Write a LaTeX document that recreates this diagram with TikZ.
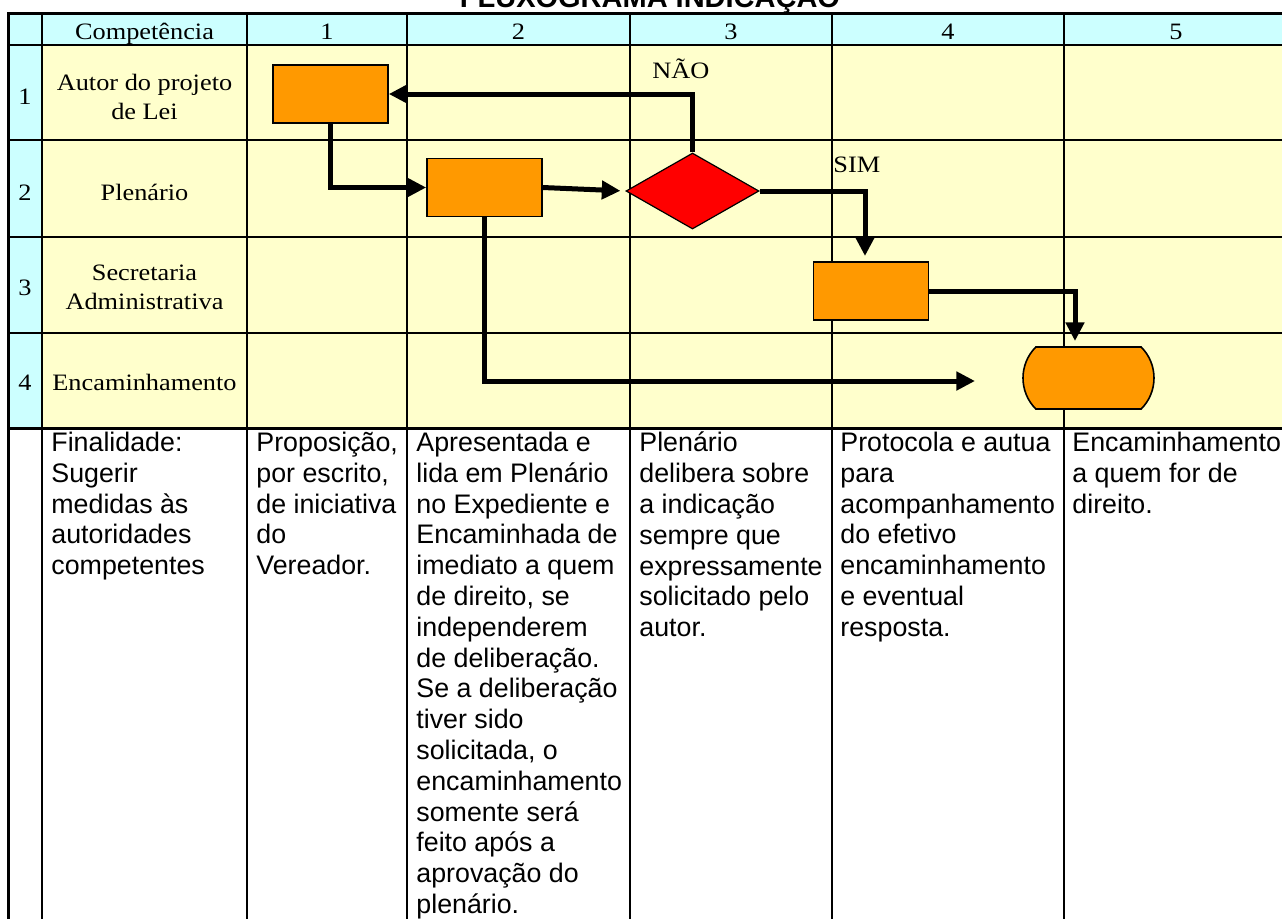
\documentclass[tikz,border=0pt]{standalone}
\usepackage{fontspec}
\setmainfont{Liberation Serif}[FakeStretch=1.12]
\newfontfamily\fontarial{Liberation Sans}
\usetikzlibrary{shapes.geometric,shapes.misc,arrows.meta}
\definecolor{ciano}{HTML}{CCFFFF}
\definecolor{creme}{HTML}{FFFFCC}
\definecolor{laranja}{HTML}{FF9900}
\newcommand{\rotulofonte}{\fontsize{11.75}{14.5}\selectfont}
\newcommand{\textofonte}{\fontarial\fontsize{13.4}{15.4}\selectfont}
\begin{document}
\begin{tikzpicture}[x=0.5pt, y=-0.5pt, >={Triangle[length=9.3pt,width=9pt]}, line join=miter,
	caixa/.style={draw, line width=0.8pt, fill=laranja, minimum width=57.5pt, minimum height=29pt, inner sep=0pt},
	seta/.style={->, line width=2.5pt},
	rotulo/.style={font=\rotulofonte, align=center, inner sep=0pt},
	texto/.style={font=\textofonte, align=left, anchor=north west, inner sep=0pt}]
	\useasboundingbox (0,0) rectangle (1282,918);
	% fundo da tabela
	\fill[ciano] (8,13) rectangle (1290,45);
	\fill[ciano] (8,45) rectangle (42,428);
	\fill[creme] (42,45) rectangle (1290,428);
	\foreach \y in {45,140,237,333} \draw[line width=1pt] (8,\y) -- (1290,\y);
	\draw[line width=1.5pt] (8,428) -- (1290,428);
	\draw[line width=1.5pt] (8,930) -- (8,13) -- (1290,13);
	\foreach \x in {42,247,407,630,832,1064} {
		\draw[line width=0.7pt] (\x,13) -- (\x,428);
		\draw[line width=1pt] (\x,428) -- (\x,930);
	}
	\node[font=\fontarial\bfseries\fontsize{14.5}{17}\selectfont, anchor=base, inner sep=0pt] (titulo) at (650,7.3) {FLUXOGRAMA INDICAÇÃO};
	% cabecalho e linhas
	\node[rotulo, anchor=base] (comp) at (144.5,39.5) {Competência};
	\foreach \t/\x in {1/327,2/518.5,3/731,4/948,5/1176}
		\node[rotulo, anchor=base] (col\t) at (\x,39.5) {\t};
	\foreach \t/\y in {1/104,2/200,3/295,4/390}
		\node[rotulo, anchor=base] (lin\t) at (25,\y) {\t};
	\node[rotulo] (autorlei) at (144.5,97) {Autor do projeto\\de Lei};
	\node[rotulo, anchor=base] (plen) at (144.5,200) {Plenário};
	\node[rotulo] (secadm) at (144.5,287) {Secretaria\\Administrativa};
	\node[rotulo, anchor=base] (encam) at (144.5,390) {Encaminhamento};
	% fluxo
	\node[caixa] (autor) at (330.5,94) {};
	\node[caixa] (plenario) at (484.5,187.5) {};
	\node[diamond, aspect=1.75, draw, fill=red, line width=0.6pt, minimum width=66.5pt, minimum height=38pt, inner sep=0pt] (decisao) at (692.5,191) {};
	\node[caixa] (secretaria) at (871,291) {};
	\node[rounded rectangle, rounded rectangle arc length=90, draw, fill=laranja, line width=0.8pt, minimum width=65.5pt, minimum height=31pt, inner sep=0pt] (fim) at (1088.5,378) {};
	\path (865,256) coordinate (sim)
		(1075,341) coordinate (desce)
		(975,381) coordinate (ponta);
	\draw[seta] (autor.south) |- (plenario.west);
	\draw[seta, shorten >=2.5pt] (plenario.east) -- (decisao.west);
	\draw[seta] (decisao.north) |- (autor.east);
	\draw[seta] (decisao.east) -| (sim);
	\draw[seta] (secretaria.east) -| (desce);
	\draw[seta] (plenario.south) |- (ponta);
	\node[rotulo, anchor=base] (nao) at (681,78) {NÃO};
	\node[rotulo, anchor=base west] (simtxt) at (833,172) {SIM};
	% descricoes
	\node[texto] (d0) at (51,431.7) {Finalidade:\\Sugerir\\medidas às\\autoridades\\competentes};
	\node[texto] (d1) at (256,431.7) {Proposição,\\por escrito,\\de iniciativa\\do\\Vereador.};
	\node[texto] (d2) at (416,431.7) {Apresentada e\\lida em Plenário\\no Expediente e\\Encaminhada de\\imediato a quem\\de direito, se\\independerem\\de deliberação.\\Se a deliberação\\tiver sido\\solicitada, o\\encaminhamento\\somente será\\feito após a\\aprovação do\\plenário.};
	\node[texto] (d3) at (639,431.7) {Plenário\\delibera sobre\\a indicação\\sempre que\\expressamente\\solicitado pelo\\autor.};
	\node[texto] (d4) at (840,431.7) {Protocola e autua\\para\\acompanhamento\\do efetivo\\encaminhamento\\e eventual\\resposta.};
	\node[texto] (d5) at (1072,431.7) {Encaminhamento\\a quem for de\\direito.};
\end{tikzpicture}
\end{document}
